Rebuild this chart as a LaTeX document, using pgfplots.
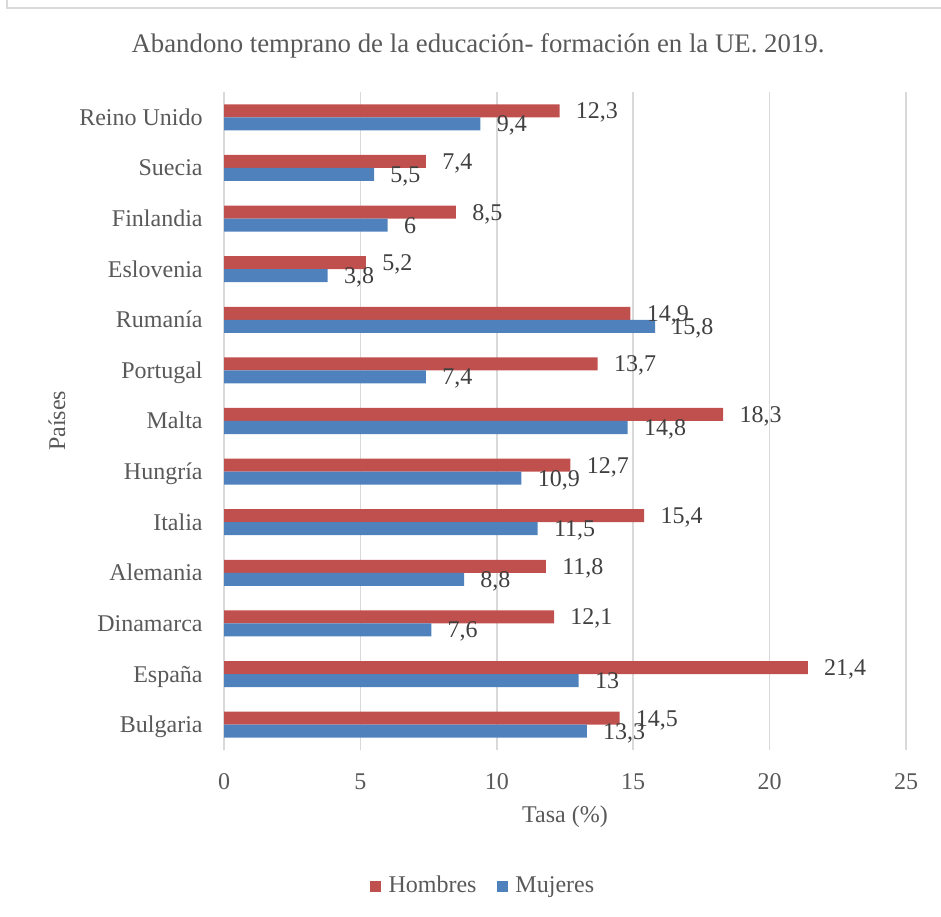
\documentclass[border=0pt]{standalone}
\usepackage{fontspec}
\setmainfont{Liberation Serif}
\usepackage{pgfplots}
\pgfplotsset{compat=1.18}

\definecolor{hombres}{HTML}{C0504D}
\definecolor{mujeres}{HTML}{4F81BD}
\definecolor{gridgray}{HTML}{D9D9D9}
\definecolor{txtgray}{HTML}{595959}
\definecolor{lblgray}{HTML}{404040}

\begin{document}
\begin{tikzpicture}
% tamaño de la página: 941x917 px a 0.5bp por px
\path[use as bounding box] (0,0) rectangle (470.5bp,458.5bp);
% marco del gráfico (solo se ven los lados superior e izquierdo)
\draw[gridgray, line width=1bp] (3.5bp,458.5bp) -- (3.5bp,454.5bp) -- (470.5bp,454.5bp);

\begin{axis}[
    at={(112bp,83.5bp)}, anchor=south west,
    scale only axis,
    width=341bp, height=329bp,
    xbar,
    bar width=0.257,
    xmin=0, xmax=25,
    ymin=-0.5, ymax=12.5,
    enlargelimits=false,
    clip=false,
    axis line style={draw=none},
    major tick length=0pt,
    xtick={0,5,...,25},
    ytick={0,...,12},
    yticklabels={Bulgaria, España, Dinamarca, Alemania, Italia, Hungría, Malta,
                 Portugal, Rumanía, Eslovenia, Finlandia, Suecia, Reino Unido},
    xmajorgrids=true,
    grid style={gridgray, line width=0.8bp},
    /pgf/number format/assume math mode=true,
    /pgf/number format/use comma,
    tick label style={font=\fontsize{12bp}{14bp}\selectfont, text=txtgray},
    xticklabel style={anchor=base, yshift=-19.5bp},
    yticklabel style={anchor=base east, inner sep=0pt, xshift=-10.5bp, yshift=-4bp},
    title={Abandono temprano de la educación- formación en la UE. 2019.},
    title style={at={(axis description cs:0.3724,1)}, anchor=center, yshift=17bp,
                 font=\fontsize{13.4bp}{15bp}\selectfont, text=txtgray},
    xlabel={Tasa (\%)},
    xlabel style={at={(axis description cs:0.5,-0.1018)}, anchor=center,
                  font=\fontsize{12bp}{14bp}\selectfont, text=txtgray},
    ylabel={Países},
    ylabel style={at={(axis description cs:-0.2449,0.5)}, anchor=center,
                  font=\fontsize{12bp}{14bp}\selectfont, text=txtgray},
    nodes near coords,
    nodes near coords style={anchor=base west, inner sep=0pt, xshift=8bp, yshift=-4bp,
                             font=\fontsize{12bp}{14bp}\selectfont, text=lblgray},
    legend columns=2,
    legend style={draw=none, fill=none, at={(axis description cs:0.381,-0.2067)},
                  anchor=center, font=\fontsize{12bp}{14bp}\selectfont, text=txtgray,
                  /tikz/every even column/.append style={column sep=8bp}},
    legend image code/.code={\fill[#1] (0bp,-2.75bp) rectangle (5.5bp,2.75bp);
                             \path (7.5bp,0bp);},
]

% Hombres (barra superior)
\addplot[fill=hombres, draw=none, bar shift=0.1285] coordinates {
    (14.5,0) (21.4,1) (12.1,2) (11.8,3) (15.4,4) (12.7,5) (18.3,6)
    (13.7,7) (14.9,8) (5.2,9) (8.5,10) (7.4,11) (12.3,12)
};
\addlegendentry{Hombres}

% Mujeres (barra inferior)
\addplot[fill=mujeres, draw=none, bar shift=-0.1285] coordinates {
    (13.3,0) (13,1) (7.6,2) (8.8,3) (11.5,4) (10.9,5) (14.8,6)
    (7.4,7) (15.8,8) (3.8,9) (6,10) (5.5,11) (9.4,12)
};
\addlegendentry{Mujeres}

\end{axis}
\end{tikzpicture}
\end{document}
